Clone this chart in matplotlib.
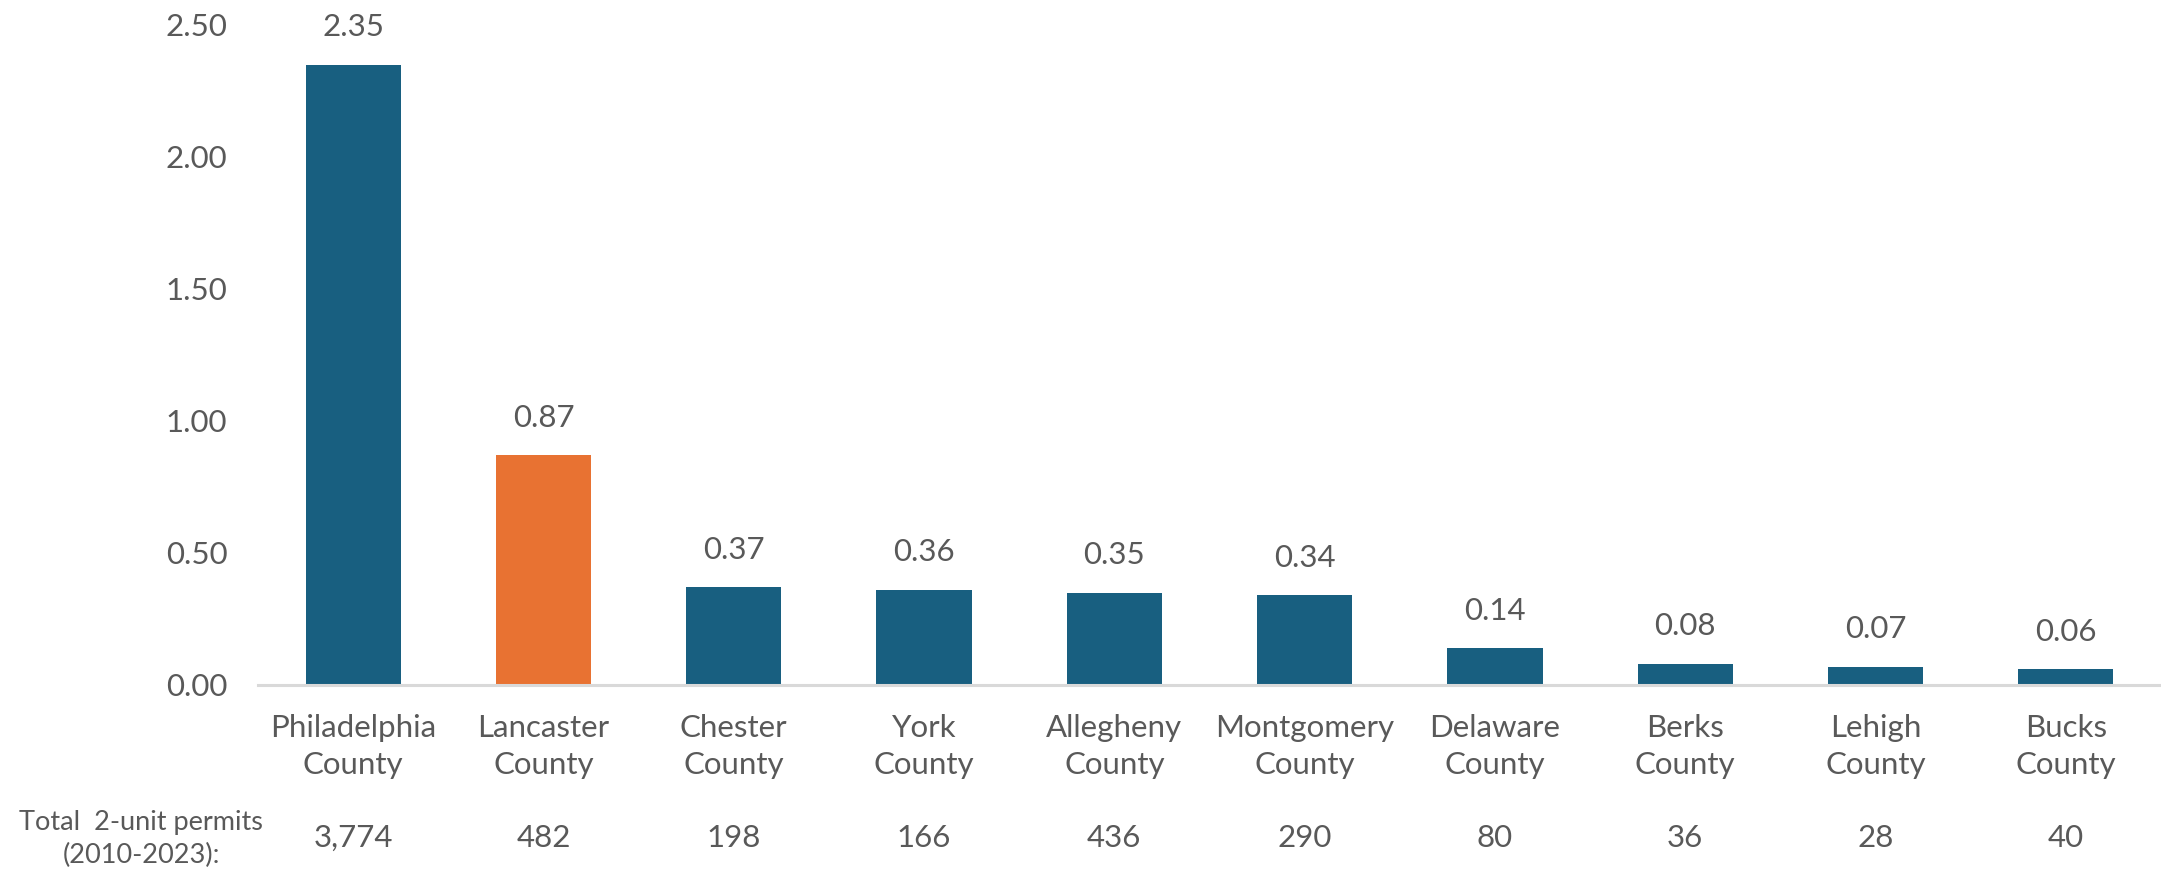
import matplotlib.pyplot as plt
import matplotlib.transforms as mtransforms

plt.rcParams['font.family'] = ['Lato', 'DejaVu Sans']

counties = ["Philadelphia\nCounty", "Lancaster\nCounty", "Chester\nCounty", "York\nCounty",
            "Allegheny\nCounty", "Montgomery\nCounty", "Delaware\nCounty", "Berks\nCounty",
            "Lehigh\nCounty", "Bucks\nCounty"]
values = [2.35, 0.87, 0.37, 0.36, 0.35, 0.34, 0.14, 0.08, 0.07, 0.06]
permits = ["3,774", "482", "198", "166", "436", "290", "80", "36", "28", "40"]
highlight = "Lancaster\nCounty"

blue = "#185F80"
orange = "#E87232"
grey_text = "#595959"

fig = plt.figure(figsize=(21.61, 8.69), dpi=100)
ax = fig.add_axes([258 / 2161, 1 - 685 / 869, 1 - 258 / 2161, (685 - 25) / 869])

x = list(range(len(counties)))
colors = [orange if c == highlight else blue for c in counties]
bars = ax.bar(x, values, width=0.5, color=colors, zorder=2)

for xi, v in zip(x, values):
    ax.annotate(f"{v:.2f}", (xi, v), xytext=(0, 27), textcoords="offset points",
                ha="center", va="center", fontsize=22.5, color=grey_text)

ax.set_xlim(-0.5, len(counties) - 0.5)
ax.set_ylim(0, 2.5)
ax.set_yticks([0, 0.5, 1.0, 1.5, 2.0, 2.5])
ax.set_yticklabels([f"{t:.2f}" for t in [0, 0.5, 1.0, 1.5, 2.0, 2.5]])
ax.set_xticks(x)
ax.set_xticklabels(counties, linespacing=1.4)
ax.tick_params(axis="y", length=0, pad=22, labelsize=22.5, labelcolor=grey_text)
ax.tick_params(axis="x", length=0, pad=21, labelsize=22.5, labelcolor=grey_text)

for side in ["top", "right", "left"]:
    ax.spines[side].set_visible(False)
ax.spines["bottom"].set_color("#D9D9D9")
ax.spines["bottom"].set_linewidth(2.2)

# permit counts row below the category labels
trans = mtransforms.blended_transform_factory(ax.transData, fig.transFigure)
for xi, p in zip(x, permits):
    ax.text(xi, 1 - 838 / 869, p, transform=trans, ha="center", va="center",
            fontsize=22.5, color=grey_text, clip_on=False)

fig.text(141 / 2161, 1 - 839 / 869, "Total  2-unit permits\n(2010-2023):", ha="center",
         va="center", fontsize=19.5, color=grey_text, linespacing=1.4)

fig.savefig("out.png", dpi=100)
